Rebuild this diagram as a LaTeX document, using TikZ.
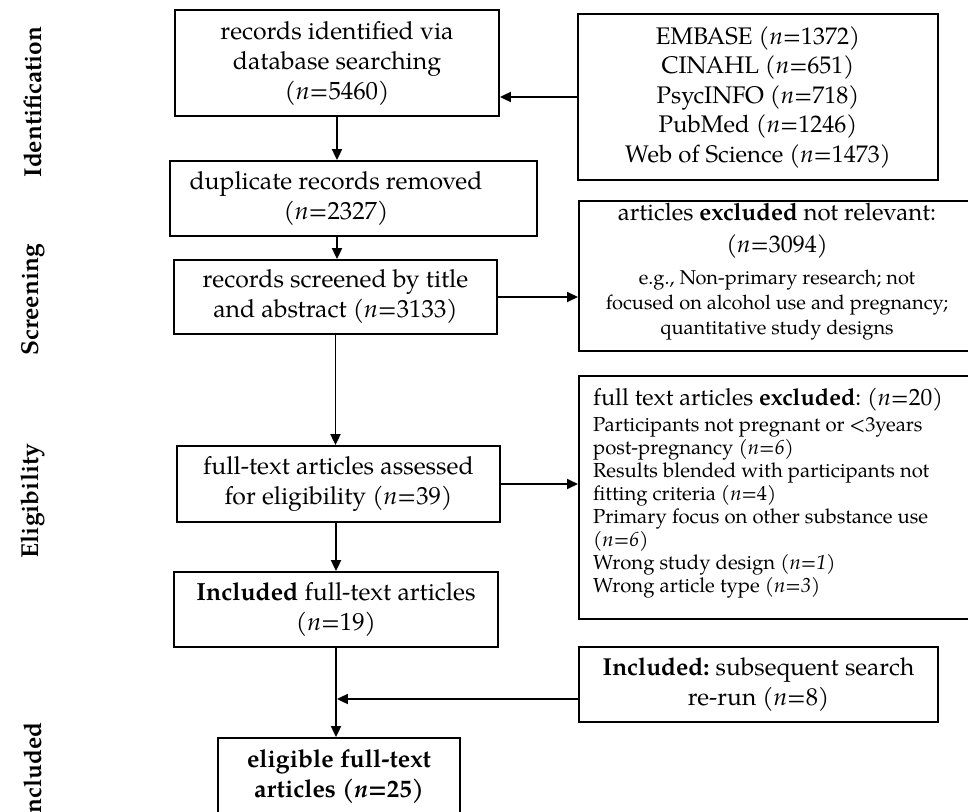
\documentclass[tikz,border=0pt]{standalone}
\usepackage{fontspec}
\setmainfont{TeX Gyre Pagella}
\usetikzlibrary{arrows.meta}
\setlength{\lineskiplimit}{-20pt}
\frenchspacing
\newcommand\smallE{\fontsize{20}{25}\selectfont}
\newcommand\smallJ{\fontsize{20.3}{23}\selectfont}
\begin{document}
\begin{tikzpicture}[x=1pt,y=-1pt,
  lw/.style={line width=1.8pt},
  box/.style={draw, lw, align=center, inner sep=0pt, font=\fontsize{24.8}{30}\selectfont},
  frame/.style={draw, lw, inner sep=0pt},
  txt/.style={inner sep=0pt, font=\fontsize{24.8}{30}\selectfont},
  arr/.style={lw, -{Triangle[length=11pt,width=10pt]}},
  phase/.style={rotate=90, inner sep=0pt, font=\fontsize{24.5}{28}\selectfont\bfseries}]
\useasboundingbox[fill=white] (0,0) rectangle (968,811);

% phase labels
\node[phase] (P1) at (33,102) {Identification};
\node[phase] (P2) at (33,300) {Screening};
\node[phase] (P3) at (33,501) {Eligibility};
\node[phase, anchor=west] (P4) at (33,823) {Included};

% main column
\node[box, minimum width=324pt, minimum height=106pt] (A) at (337,63)
  {records identified via\\database searching\\(\textit{n}=5460)};
\node[frame, minimum width=367pt, minimum height=75pt] (B) at (353.5,198.5) {};
\node[txt, align=center] (Bt) at (336,199) {duplicate records removed\\(\textit{n}=2327)};
\node[box, minimum width=323pt, minimum height=74pt] (C) at (335.5,297)
  {records screened by title\\and abstract (\textit{n}=3133)};
\node[box, minimum width=323pt, minimum height=76pt] (F) at (338.5,484)
  {full-text articles assessed\\for eligibility (\textit{n}=39)};
\node[box, minimum width=324pt, minimum height=75pt] (G) at (336,609.5)
  {\textbf{Included} full-text articles\\(\textit{n}=19)};
\node[box, minimum width=242pt, minimum height=78pt, font={\fontsize{24.8}{30}\selectfont\bfseries}] (H) at (339,777)
  {eligible full-text\\articles (\textit{n}=25)};

% right column
\node[box, minimum width=360pt, minimum height=166pt, font={\fontsize{24}{29.5}\selectfont}] (D) at (758,97)
  {EMBASE (\textit{n}=1372)\\CINAHL (\textit{n}=651)\\PsycINFO (\textit{n}=718)\\PubMed (\textit{n}=1246)\\Web of Science (\textit{n}=1473)};
\node[frame, anchor=north west, minimum width=398pt, minimum height=150pt] (E) at (578,200) {};
\node[inner sep=0pt, anchor=north, align=center, font={\fontsize{24}{25}\selectfont}] (Et) at (777,203)
  {articles \textbf{excluded} not relevant:\\[7pt](\textit{n}=3094)\\[7pt]%
   \smallE e.g., Non-primary research; not\\
   \smallE focused on alcohol use and pregnancy;\\
   \smallE quantitative study designs};
\node[frame, anchor=north west, minimum width=398pt, minimum height=243pt] (J) at (578,375) {};
\node[inner sep=0pt, anchor=north west, align=left, font={\fontsize{23.5}{23}\selectfont}] (Jt) at (593,388)
  {full text articles \textbf{excluded}: (\textit{n}=20)\\[3pt]%
   \smallJ Participants not pregnant or <3years\\
   \smallJ post-pregnancy (\textit{n=6})\\
   \smallJ Results blended with participants not\\
   \smallJ fitting criteria (\textit{n}=4)\\
   \smallJ Primary focus on other substance use\\
   \smallJ (\textit{n=6})\\
   \smallJ Wrong study design (\textit{n=1})\\
   \smallJ Wrong article type (\textit{n=3})};
\node[box, minimum width=359pt, minimum height=75pt, font={\fontsize{24.5}{30}\selectfont}] (I) at (758.5,684.5)
  {\textbf{Included:} subsequent search\\re-run (\textit{n}=8)};

% connectors
\draw[arr] (A.south) -- (A.south |- B.north);
\draw[arr] (A.south |- B.south) -- (A.south |- C.north);
\draw[arr] (C.south) -- (C.south |- F.north);
\draw[arr] (G.north |- F.south) -- (G.north);
\draw[arr] (G.south) -- (G.south |- H.north);
\draw[arr] (D.west) -- (D.west -| A.east);
\draw[arr] (C.east) -- (C.east -| E.west);
\draw[arr] (F.east) -- (F.east -| J.west);
\coordinate (m) at (336,699);
\draw[arr, shorten >=0.9pt] (I.west |- m) -- (m);
\end{tikzpicture}
\end{document}
